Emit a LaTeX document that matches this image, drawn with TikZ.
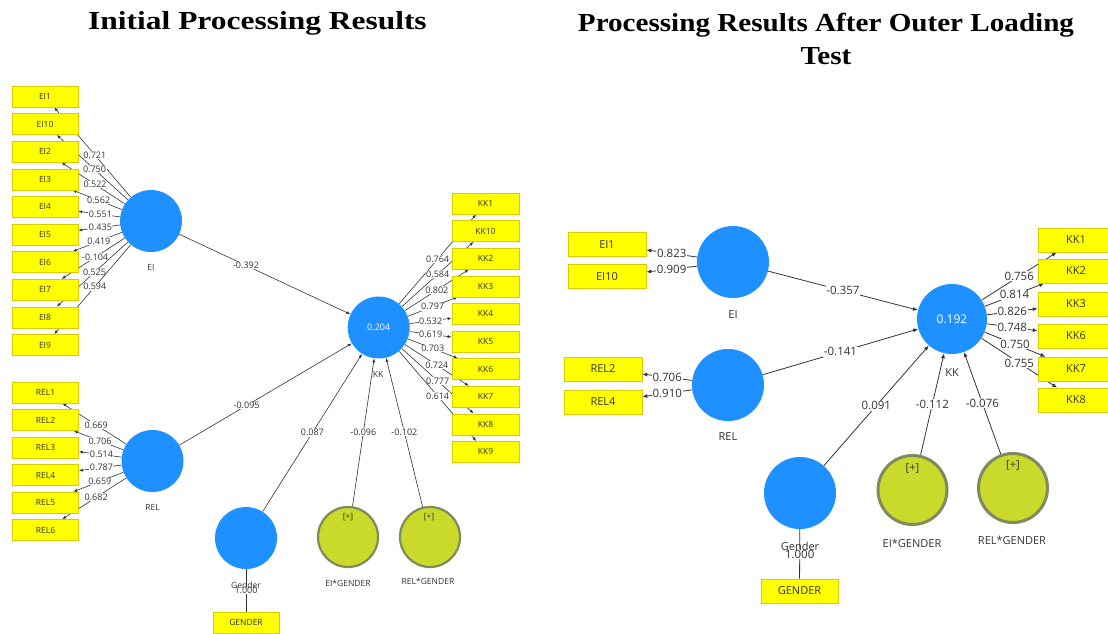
\documentclass[tikz,border=0pt]{standalone}
\usepackage{fontspec}
\setsansfont{Open Sans}
\newfontfamily\titlefontA[FakeStretch=1.21]{Liberation Serif}
\newfontfamily\titlefontB[FakeStretch=1.12]{Liberation Serif}
\usetikzlibrary{arrows.meta,backgrounds}
\definecolor{lvb}{HTML}{1E90FF}
\definecolor{modf}{HTML}{C9DA2B}
\definecolor{modb}{HTML}{7D8B5E}
\definecolor{indf}{HTML}{FFFF00}
\definecolor{indb}{HTML}{D8CC00}
\definecolor{lc}{HTML}{333333}
\definecolor{txt}{HTML}{333333}
\begin{document}
\begin{tikzpicture}[x=1pt,y=-1pt,
  ind/.style={draw=indb, fill=indf, line width=0.6pt, minimum width=66pt, minimum height=21pt, inner sep=0pt, text=txt, font=\sffamily\fontsize{8.5}{10}\selectfont},
  indR/.style={ind, minimum width=78pt, minimum height=24pt, font=\sffamily\fontsize{11}{13}\selectfont},
  lv/.style={circle, fill=lvb, minimum size=62pt, inner sep=0pt, text=white, font=\sffamily\fontsize{9}{10}\selectfont},
  lvR/.style={lv, minimum size=72pt, font=\sffamily\fontsize{12}{14}\selectfont},
  mod/.style={circle, fill=modf, draw=modb, line width=2.2pt, minimum size=60pt, inner sep=0pt},
  modR/.style={mod, minimum size=69pt, line width=3pt},
  clab/.style={text=txt, font=\sffamily\fontsize{8.5}{10}\selectfont, inner sep=0pt},
  clabR/.style={clab, font=\sffamily\fontsize{11}{13}\selectfont},
  ld/.style={draw=lc, line width=0.6pt, -{Latex[length=4pt,width=3pt]}},
  ldR/.style={draw=lc, line width=0.8pt, -{Latex[length=5pt,width=4pt]}},
  num/.style={fill=white, inner sep=0.5pt, text=txt, font=\sffamily\fontsize{9}{10}\selectfont},
  numS/.style={num, font=\sffamily\fontsize{9}{10}\selectfont},
  numR/.style={num, inner sep=0.8pt, font=\sffamily\fontsize{11.5}{13}\selectfont},
  ttlA/.style={font=\titlefontA\bfseries\fontsize{26}{33}\selectfont, align=center, inner sep=0pt},
  ttlB/.style={font=\titlefontB\bfseries\fontsize{26}{33}\selectfont, align=center, inner sep=0pt}
]
\useasboundingbox (0,0) rectangle (1108,633);

% titles
\node[ttlA] (t1) at (257.5,23) {Initial Processing Results};
\node[ttlB] (t2) at (826,39) {Processing Results After Outer Loading\\Test};

% ================= LEFT PANEL =================
\node[lv] (lEI) at (151,221) {};
\node[clab] (lEIc) at (151,267) {EI};
\node[lv] (lREL) at (152.5,461) {};
\node[clab] (lRELc) at (152.5,507) {REL};
\node[lv] (lKK) at (378.7,327.5) {0.204};
\node[clab] (lKKc) at (378,374) {KK};
\node[lv] (lGen) at (246,538) {};
\node[mod] (lEIG) at (348,537) {};
\node[clab] (lEIGp) at (348,517) {[+]};
\node[clab] (lEIGc) at (348,583) {EI*GENDER};
\node[mod] (lRELG) at (430,537) {};
\node[clab] (lRELGp) at (429,517) {[+]};
\node[clab] (lRELGc) at (428,581) {REL*GENDER};
\node[ind] (lGENDER) at (246,622.5) {GENDER};

\foreach \n/\y in {EI1/96.5, EI10/124.1, EI2/151.7, EI3/179.3, EI4/206.9, EI5/234.6, EI6/262.2, EI7/289.8, EI8/317.4, EI9/345}
  \node[ind] (l\n) at (45,\y) {\n};
\foreach \n/\y in {REL1/392.5, REL2/420, REL3/447.5, REL4/475, REL5/502.5, REL6/530}
  \node[ind] (l\n) at (45.5,\y) {\n};
\foreach \n/\y in {KK1/203.5, KK10/231.1, KK2/258.7, KK3/286.3, KK4/313.9, KK5/341.5, KK6/369.1, KK7/396.7, KK8/424.3, KK9/451.9}
  \node[ind, minimum width=67pt] (l\n) at (485.5,\y) {\n};

% ================= RIGHT PANEL =================
\node[lvR] (rEI) at (733,262) {};
\node[clabR] (rEIc) at (733,315) {EI};
\node[lvR] (rREL) at (728,385) {};
\node[clabR] (rRELc) at (728,437) {REL};
\node[lvR, minimum size=70pt] (rKK) at (952,319) {0.192};
\node[clabR] (rKKc) at (952,373) {KK};
\node[lvR] (rGen) at (800,493) {};
\node[modR] (rEIG) at (912.5,490) {};
\node[clabR] (rEIGp) at (912.5,468) {[+]};
\node[clabR] (rEIGc) at (912,543) {EI*GENDER};
\node[modR] (rRELG) at (1013,488) {};
\node[clabR] (rRELGp) at (1013,465) {[+]};
\node[clabR] (rRELGc) at (1012,540) {REL*GENDER};
\node[indR, minimum width=77pt] (rGENDER) at (799.5,591) {GENDER};

\node[indR] (rEI1) at (607,244.5) {EI1};
\node[indR] (rEI10) at (607,276.5) {EI10};
\node[indR] (rREL2) at (603,369) {REL2};
\node[indR] (rREL4) at (603,402) {REL4};
\foreach \n/\y in {KK1/240, KK2/271, KK3/304, KK6/336, KK7/369, KK8/400}
  \node[indR, minimum width=76pt] (r\n) at (1076,\y) {\n};

% ================= CONNECTORS =================
\begin{pgfonlayer}{background}
  % left loadings
  \foreach \n/\v in {EI1/0.721, EI10/0.750, EI2/0.522, EI3/0.562, EI4/0.551, EI5/0.435, EI6/0.419, EI7/-0.104, EI8/0.525, EI9/0.594}
    \draw[ld] (lEI) -- node[num, pos=0.47]{\v} (l\n);
  \foreach \n/\v in {REL1/0.669, REL2/0.706, REL3/0.514, REL4/0.787, REL5/0.659, REL6/0.682}
    \draw[ld] (lREL) -- node[num, pos=0.47]{\v} (l\n);
  \foreach \n/\v in {KK1/0.764, KK10/0.584, KK2/0.802, KK3/0.797, KK4/0.532, KK5/0.619, KK6/0.703, KK7/0.724, KK8/0.777, KK9/0.614}
    \draw[ld] (lKK) -- node[num]{\v} (l\n);
  % left structural
  \draw[ld] (lEI) -- node[numS, pos=0.39]{-0.392} (lKK);
  \draw[ld] (lREL) -- node[numS, pos=0.39]{-0.095} (lKK);
  \draw[ld] (lGen) -- node[numS]{0.087} (lKK);
  \draw[ld] (lEIG) -- node[numS]{-0.096} (lKK);
  \draw[ld] (lRELG) -- node[numS]{-0.102} (lKK);
  \draw[draw=lc, line width=0.6pt] (lGen) -- node[num]{1.000} (lGENDER);

  % right loadings
  \draw[ldR] (rEI) -- node[numR]{0.823} (rEI1);
  \draw[ldR] (rEI) -- node[numR]{0.909} (rEI10);
  \draw[ldR] (rREL) -- node[numR]{0.706} (rREL2);
  \draw[ldR] (rREL) -- node[numR]{0.910} (rREL4);
  \foreach \n/\v in {KK1/0.756, KK2/0.814, KK3/0.826, KK6/0.748, KK7/0.750, KK8/0.755}
    \draw[ldR] (rKK) -- node[numR]{\v} (r\n);
  % right structural
  \draw[ldR] (rEI) -- node[numR]{-0.357} (rKK);
  \draw[ldR] (rREL) -- node[numR]{-0.141} (rKK);
  \draw[ldR] (rGen) -- node[numR]{0.091} (rKK);
  \draw[ldR] (rEIG) -- node[numR]{-0.112} (rKK);
  \draw[ldR] (rRELG) -- node[numR]{-0.076} (rKK);
  \draw[draw=lc, line width=0.8pt] (rGen) -- node[numR]{1.000} (rGENDER);
\end{pgfonlayer}

% captions over the 1.000 labels
\node[clab] (lGenc) at (246,585) {Gender};
\node[clabR] (rGenc) at (800,546) {Gender};
\end{tikzpicture}
\end{document}
